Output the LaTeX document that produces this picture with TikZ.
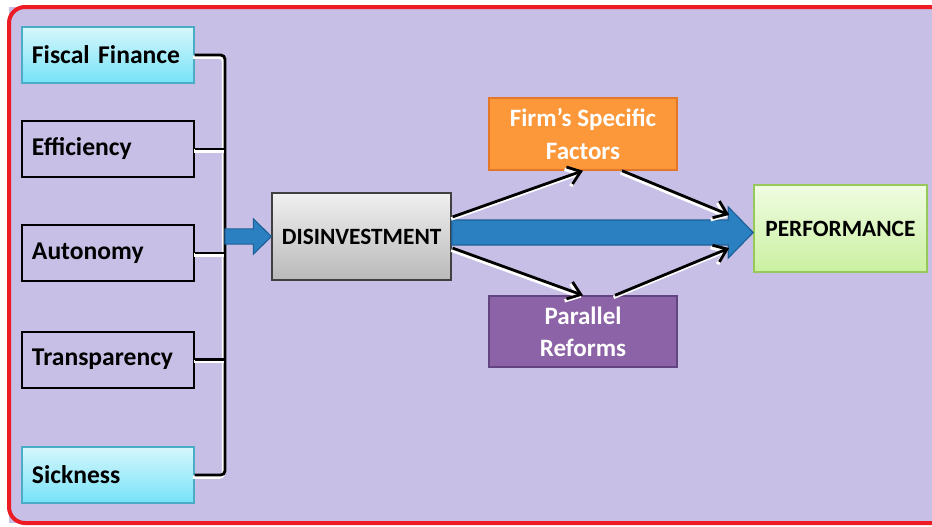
\documentclass[tikz,border=0pt]{standalone}
\usepackage{fontspec}
\setmainfont{Carlito}
\usetikzlibrary{calc,arrows.meta}

\definecolor{lavbg}{RGB}{199,191,230}
\definecolor{framered}{RGB}{237,28,36}
\definecolor{cyantop}{RGB}{214,247,252}
\definecolor{cyanbot}{RGB}{118,226,247}
\definecolor{cyanedge}{RGB}{75,172,198}
\definecolor{graytop}{RGB}{240,240,240}
\definecolor{graybot}{RGB}{185,185,185}
\definecolor{orfill}{RGB}{252,152,58}
\definecolor{oredge}{RGB}{228,118,40}
\definecolor{pufill}{RGB}{139,99,166}
\definecolor{puedge}{RGB}{98,68,128}
\definecolor{grtop}{RGB}{240,252,226}
\definecolor{grbot}{RGB}{202,240,160}
\definecolor{gredge}{RGB}{150,200,90}
\definecolor{arrblue}{RGB}{42,128,192}
\definecolor{arredge}{RGB}{30,96,150}

\tikzset{
  glow/.style={preaction={draw=white, line width=2.4pt, transform canvas={xshift=-1pt,yshift=-1.5pt}}},
  sidebox/.style={draw=black, line width=1.4pt, minimum height=1.4cm, text width=3.8cm,
    inner xsep=0.25cm, align=left, font=\bfseries\fontsize{18.2}{22}\selectfont},
  cyanbox/.style={sidebox, draw=cyanedge, line width=0.8pt, top color=cyantop, bottom color=cyanbot},
  plainbox/.style={sidebox},
  bracket/.style={line width=2pt, rounded corners=3pt, glow},
  conn/.style={line width=2pt, -{Straight Barb[length=3mm,width=4.5mm]}, glow},
  blockarrow/.style={fill=arrblue, draw=arredge, line width=0.8pt}
}

\begin{document}
\begin{tikzpicture}
  \useasboundingbox (0,0) rectangle (23.3,-13.15);
  % frame, open on the right
  \fill[lavbg] (0.225,-0.175) rectangle (23.3,-13.075);
  \draw[framered, line width=0.1cm, rounded corners=0.4cm]
    (23.3,-0.175) -- (0.225,-0.175) -- (0.225,-13.075) -- (23.3,-13.075);

  % left column
  \foreach \nm/\lbl/\yy/\st in {fis/Fiscal Finance/-1.375/cyanbox, eff/Efficiency/-3.725/plainbox,
      aut/Autonomy/-6.325/plainbox, tra/Transparency/-8.99/plainbox, sic/Sickness/-11.875/cyanbox}
    \node[\st] (\nm) at (2.7,\yy) {\lbl};

  % middle and right
  \node[draw=black!75, line width=1pt, top color=graytop, bottom color=graybot,
    minimum width=4.475cm, minimum height=2.175cm,
    font=\bfseries\fontsize{16.6}{20}\selectfont] (dis) at (9.04,-5.9125) {DISINVESTMENT};
  \node[draw=oredge, line width=1pt, fill=orfill, text=white, align=center,
    minimum width=4.7cm, minimum height=1.8cm,
    font=\bfseries\fontsize{17.8}{22.8}\selectfont] (firm) at (14.575,-3.35) {Firm’s Specific\\Factors};
  \node[draw=puedge, line width=1pt, fill=pufill, text=white, align=center,
    minimum width=4.7cm, minimum height=1.775cm,
    font=\bfseries\fontsize{17.8}{22.8}\selectfont] (par) at (14.575,-8.2875) {Parallel\\Reforms};
  \node[draw=gredge, line width=1pt, top color=grtop, bottom color=grbot,
    minimum width=4.325cm, minimum height=2.175cm,
    font=\bfseries\fontsize{16.6}{20}\selectfont] (perf) at (21.01,-5.7125) {PERFORMANCE};

  % bracket
  \coordinate (btop) at (5.625,-1.375);
  \draw[bracket] (fis.east) -- (btop) -- (btop |- sic.east) -- (sic.east);
  \foreach \nm in {eff,aut,tra}
    \draw[bracket] (\nm.east) -- (\nm.east -| btop);

  % small block arrow
  \coordinate (sa) at (btop |- dis.west);
  \draw[blockarrow] ($(sa)+(0,0.19)$) -- ($(dis.west)+(-0.45,0.19)$) -- ($(dis.west)+(-0.45,0.44)$)
    -- (dis.west) -- ($(dis.west)+(-0.45,-0.44)$) -- ($(dis.west)+(-0.45,-0.19)$)
    -- ($(sa)+(0,-0.19)$) -- cycle;

  % big block arrow
  \coordinate (ba) at ($(dis.east)+(0,0.1)$);
  \coordinate (bt) at (perf.west |- ba);
  \draw[blockarrow] ($(ba)+(0,0.3125)$) -- ($(bt)+(-0.625,0.3125)$) -- ($(bt)+(-0.625,0.64)$)
    -- (bt) -- ($(bt)+(-0.625,-0.64)$) -- ($(bt)+(-0.625,-0.3125)$)
    -- ($(ba)+(0,-0.3125)$) -- cycle;

  % connectors
  \draw[conn] ($(dis.east)+(0.02,0.49)$) -- (firm.south);
  \draw[conn] ($(dis.east)+(0.02,-0.29)$) -- (par.north);
  \draw[conn] ($(firm.south)+(0.975,0)$) -- ($(perf.west)+(-0.6,0.34)$);
  \draw[conn] ($(par.north)+(0.8,0)$) -- ($(perf.west)+(-0.6,-0.49)$);
\end{tikzpicture}
\end{document}
